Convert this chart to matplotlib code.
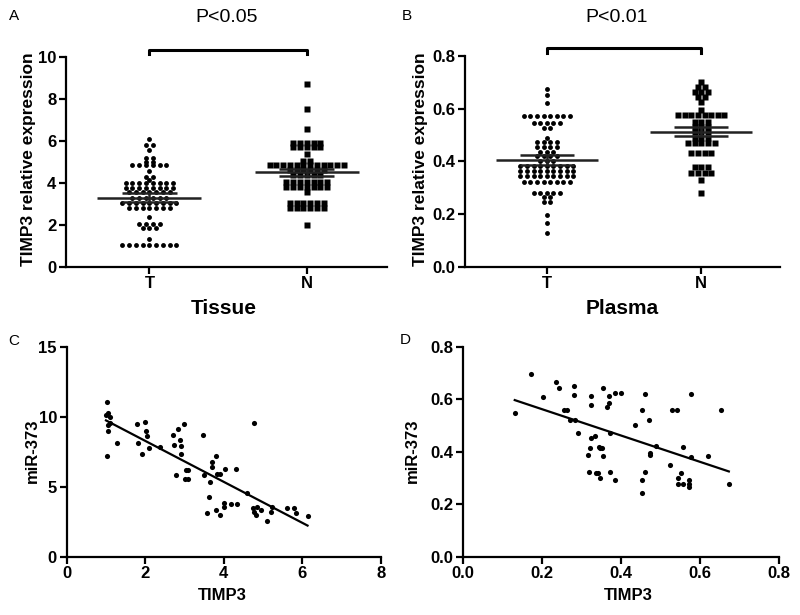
import numpy as np
import matplotlib
matplotlib.use('Agg')
import matplotlib.pyplot as plt

plt.rcParams['font.family'] = ['Liberation Sans', 'DejaVu Sans']
plt.rcParams['font.weight'] = 'bold'

groups = ['T', 'N']

# panel A: tissue TIMP3 relative expression
tissue_T = ([6.12] + [5.82] * 2 + [5.55] + [5.2] * 2 + [5.02] * 2 + [4.85] * 6
            + [4.58] + [4.3] * 2 + [4.15] + [4.0] * 8 + [3.77] * 8 + [3.55] * 7
            + [3.3] * 6 + [3.03] * 9 + [2.79] * 7 + [2.36] + [2.05] * 4
            + [1.83] * 3 + [1.3] + [1.05] * 9)
tissue_N = ([8.73, 7.52, 6.58] + [5.9] * 5 + [5.72] * 5 + [5.38] + [5.06] * 2
            + [4.88] * 12 + [4.6] * 6 + [4.4] * 5 + [4.06] * 7 + [3.82] * 7
            + [3.58] + [3.05] * 6 + [2.8] * 6 + [1.99])
tissue_mean = [3.3, 4.5]
tissue_sem = [0.2, 0.18]

# panel B: plasma TIMP3 relative expression
plasma_T = ([0.673, 0.652, 0.62] + [0.572] * 8 + [0.545] * 5 + [0.525] * 2
            + [0.49] + [0.472] * 4 + [0.456] * 4 + [0.437] * 3 + [0.42] * 4
            + [0.40] * 3 + [0.384] * 9 + [0.365] * 9 + [0.343] * 9
            + [0.323] * 8 + [0.281] * 5 + [0.265] * 2 + [0.245] * 2
            + [0.196, 0.167, 0.127])
plasma_N = ([0.70] + [0.682] * 2 + [0.662] * 3 + [0.645] * 2 + [0.625, 0.595]
            + [0.575] * 8 + [0.55] * 3 + [0.53] * 3 + [0.51] * 3 + [0.49] * 3
            + [0.468] * 5 + [0.433] * 4 + [0.378] * 3 + [0.357] * 4
            + [0.33, 0.281])
plasma_mean = [0.405, 0.513]
plasma_sem = [0.018, 0.018]

# panel C: tissue correlation
c_timp3 = [1.02, 1.0, 1.06, 1.1, 1.04, 1.09, 1.06, 1.02, 1.29, 1.8, 1.81, 1.91,
           2.0, 2.03, 2.04, 2.1, 2.38, 2.7, 2.72, 2.78, 2.83, 2.88, 2.92, 2.92,
           2.99, 3.0, 3.03, 3.1, 3.1, 3.47, 3.5, 3.56, 3.63, 3.66, 3.7, 3.71,
           3.8, 3.83, 3.8, 3.91, 3.91, 4.0, 4.0, 4.02, 4.17, 4.3, 4.34, 4.6,
           4.77, 4.74, 4.77, 4.81, 4.85, 4.94, 5.11, 5.19, 5.23, 5.62, 5.79,
           5.83, 6.13]
c_mir373 = [11.1, 10.15, 10.3, 9.98, 9.43, 9.55, 8.96, 7.21, 8.14, 9.48, 8.12,
            7.33, 9.67, 8.96, 8.6, 7.81, 7.83, 8.72, 8.0, 5.83, 9.12, 8.36,
            7.95, 7.36, 9.5, 5.56, 6.21, 6.21, 5.56, 8.72, 5.85, 3.15, 4.3,
            5.33, 6.76, 6.4, 7.19, 5.9, 3.34, 5.9, 2.99, 3.82, 3.58, 6.28,
            3.75, 6.28, 3.75, 4.54, 9.55, 3.46, 3.22, 2.99, 3.58, 3.34, 2.58,
            3.18, 3.58, 3.46, 3.51, 3.15, 2.94]

# panel D: plasma correlation
d_timp3 = [0.131, 0.171, 0.203, 0.235, 0.243, 0.255, 0.263, 0.272, 0.283, 0.281,
           0.281, 0.291, 0.321, 0.316, 0.319, 0.323, 0.325, 0.325, 0.335, 0.336,
           0.342, 0.344, 0.346, 0.348, 0.353, 0.354, 0.354, 0.365, 0.37, 0.37,
           0.371, 0.373, 0.384, 0.386, 0.401, 0.435, 0.453, 0.454, 0.454, 0.46,
           0.462, 0.471, 0.474, 0.474, 0.489, 0.523, 0.53, 0.542, 0.544, 0.544,
           0.551, 0.557, 0.557, 0.572, 0.572, 0.572, 0.576, 0.576, 0.62, 0.652,
           0.673]
d_mir373 = [0.55, 0.698, 0.611, 0.666, 0.643, 0.561, 0.561, 0.522, 0.522, 0.653,
            0.618, 0.471, 0.414, 0.389, 0.322, 0.452, 0.614, 0.578, 0.459, 0.321,
            0.321, 0.42, 0.414, 0.299, 0.414, 0.385, 0.643, 0.571, 0.586, 0.614,
            0.322, 0.471, 0.624, 0.293, 0.624, 0.501, 0.293, 0.561, 0.242, 0.322,
            0.622, 0.52, 0.397, 0.389, 0.423, 0.348, 0.561, 0.561, 0.299, 0.278,
            0.321, 0.42, 0.278, 0.293, 0.278, 0.265, 0.38, 0.622, 0.385, 0.561,
            0.278]


def row_swarm(vals, center, step):
    # GraphPad-like rows: equal values side by side, centred on the group
    vals = np.asarray(vals)
    xs = np.empty(len(vals))
    for v in np.unique(vals):
        idx = np.where(vals == v)[0]
        xs[idx] = center + (np.arange(len(idx)) - (len(idx) - 1) / 2) * step
    return xs


def style_axis(ax):
    for s in ['top', 'right']:
        ax.spines[s].set_visible(False)
    for s in ['left', 'bottom']:
        ax.spines[s].set_linewidth(1.6)
    ax.tick_params(direction='out', length=5, width=1.6, labelsize=12, pad=2)


def dot_plot(ax, data_T, data_N, means, sems, ymax, yticks, step):
    ax.plot(row_swarm(data_T, 0, step), data_T, 'o', color='black', ms=3.5,
            mec='none')
    ax.plot(row_swarm(data_N, 1, step), data_N, 's', color='black', ms=3.7,
            mec='none')
    for i in range(2):
        ax.hlines(means[i], i - 0.33, i + 0.33, color='#222222', lw=1.8)
        ax.hlines([means[i] - sems[i], means[i] + sems[i]], i - 0.175, i + 0.175,
                  color='#222222', lw=1.8)
        ax.vlines(i, means[i] - sems[i], means[i] + sems[i], color='#222222', lw=1.8)
    b0, b1 = ymax * 1.014, ymax * 1.036
    ax.plot([0, 0, 1, 1], [b0, b1, b1, b0], color='black', lw=2.2, clip_on=False)
    ax.set_xlim(-0.53, 1.51)
    ax.set_ylim(0, ymax)
    ax.set_yticks(yticks)
    ax.set_xticks([0, 1])
    ax.set_xticklabels(groups)
    style_axis(ax)


fig = plt.figure(figsize=(8, 6.15), dpi=100)
W, H = 800, 615


def rect(x0, y0, x1, y1):
    return [x0 / W, 1 - y1 / H, (x1 - x0) / W, (y1 - y0) / H]


axA = fig.add_axes(rect(66, 57.3, 387, 266.7))
axB = fig.add_axes(rect(465, 56, 780, 266.7))
axC = fig.add_axes(rect(66.7, 347, 381, 556.7))
axD = fig.add_axes(rect(463, 347, 779, 556.7))

dot_plot(axA, tissue_T, tissue_N, tissue_mean, tissue_sem, 10, np.arange(0, 11, 2), 0.043)
dot_plot(axB, plasma_T, plasma_N, plasma_mean, plasma_sem, 0.8,
         np.arange(0, 0.81, 0.2), 0.043)
axB.set_yticklabels(['0.0', '0.2', '0.4', '0.6', '0.8'])

for ax, xs, ys, xlim, ylim, xt, yt in [
        (axC, c_timp3, c_mir373, 8, 15, [0, 2, 4, 6, 8], [0, 5, 10, 15]),
        (axD, d_timp3, d_mir373, 0.8, 0.8, [0.0, 0.2, 0.4, 0.6, 0.8],
         [0.0, 0.2, 0.4, 0.6, 0.8])]:
    ax.plot(xs, ys, 'o', color='black', ms=3.7, mec='none')
    k, b = np.polyfit(xs, ys, 1)
    xx = np.array([min(xs), max(xs)])
    ax.plot(xx, k * xx + b, color='black', lw=1.6)
    ax.set_xlim(0, xlim)
    ax.set_ylim(0, ylim)
    ax.set_xticks(xt)
    ax.set_yticks(yt)
    style_axis(ax)
axD.set_xticklabels(['0.0', '0.2', '0.4', '0.6', '0.8'])
axD.set_yticklabels(['0.0', '0.2', '0.4', '0.6', '0.8'])


def ftext(x, y, s, **kw):
    fig.text(x / W, 1 - y / H, s, ha='center', va='center', **kw)


ftext(14, 16, 'A', fontsize=11, fontweight='normal')
ftext(407, 16, 'B', fontsize=11, fontweight='normal')
ftext(14, 341, 'C', fontsize=11, fontweight='normal')
ftext(405, 340, 'D', fontsize=11, fontweight='normal')
ftext(227, 18, 'P<0.05', fontsize=14, fontweight='normal')
ftext(617, 18, 'P<0.01', fontsize=14, fontweight='normal')
ftext(224, 308, 'Tissue', fontsize=15)
ftext(622, 308, 'Plasma', fontsize=15)
ftext(28, 159, 'TIMP3 relative expression', fontsize=12.5, rotation=90)
ftext(421, 159, 'TIMP3 relative expression', fontsize=12.5, rotation=90)
ftext(32, 451, 'miR-373', fontsize=12, rotation=90)
ftext(412, 451, 'miR-373', fontsize=12, rotation=90)
ftext(222, 596, 'TIMP3', fontsize=12)
ftext(628, 596, 'TIMP3', fontsize=12)

fig.savefig('out.png', dpi=100)
